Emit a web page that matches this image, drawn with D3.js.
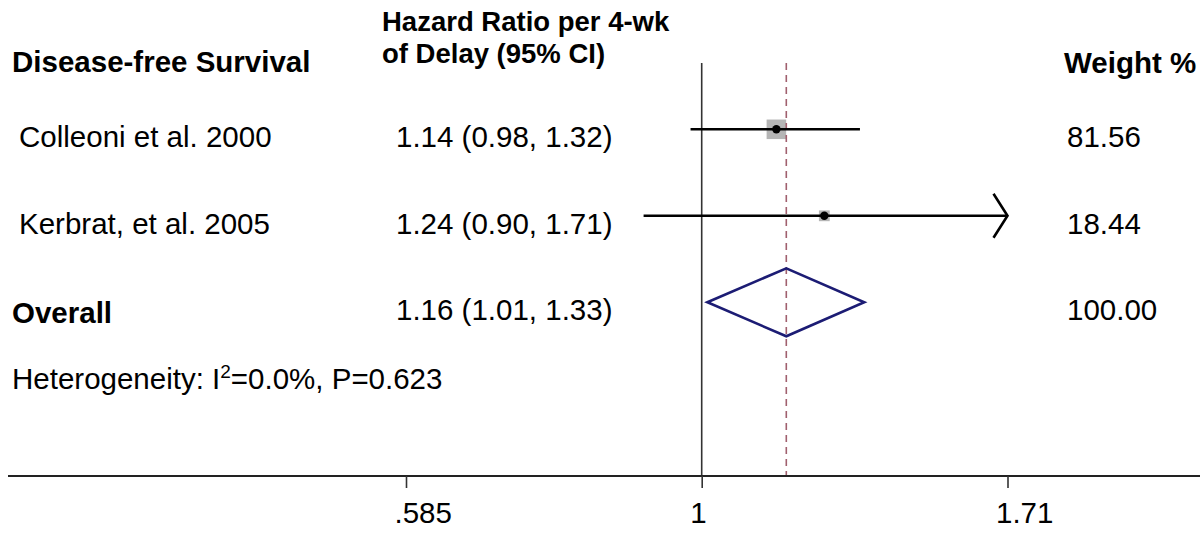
<!DOCTYPE html>
<head>
<meta charset="utf-8">
</head>
<style>
  body {
    margin: 0;
    background: #fff;
    font-family: 'Liberation Sans', Arial, sans-serif;
  }
  svg text {
    font-size: 29.5px;
    fill: #000;
  }
  .bold {
    font-weight: bold;
  }
  .head2 {
    font-size: 27.5px;
  }
  .axis .domain {
    display: none;
  }
</style>
<svg width="1200" height="534"></svg>
<script src="https://d3js.org/d3.v7.min.js"></script>
<script>
// forest plot data
var studies = ["Colleoni et al. 2000", "Kerbrat, et al. 2005", "Overall"];
var hr = [1.14, 1.24, 1.16];
var lower = [0.98, 0.90, 1.01];
var upper = [1.32, 1.71, 1.33];
var weights = [81.56, 18.44, 100.00];
var pooled = 1.16;
var tickValues = [0.585, 1, 1.71];
var tickLabels = [".585", "1", "1.71"];
var heterogeneity = {i2: "0.0%", p: "0.623"};

var svg = d3.select("svg");

var fmt = d3.format(".2f");

// log scale, null line at 1
var x = d3.scaleLog()
    .domain([0.585, 1, 1.71])
    .range([406, 701.7, 1007.5]);

var y = d3.scaleLinear()
    .domain([0, 2])
    .range([129.3, 302.3]);

var boxSide = d3.scalePow()
    .exponent(0.4)
    .domain([0, 100])
    .range([0, 21.2]);

var plotTop = 63,
    axisY = 476,
    xMax = tickValues[tickValues.length - 1];

var rows = studies.map(function(s, i) {
  return {name: s, hr: hr[i], lo: lower[i], hi: upper[i], w: weights[i], i: i, overall: s === "Overall"};
});
var trials = rows.filter(function(d) { return !d.overall; });
var total = rows.filter(function(d) { return d.overall; });

// headers
svg.append("text").attr("class", "bold").attr("x", 12).attr("y", 71.7).text("Disease-free Survival");
svg.append("text").attr("class", "bold head2").attr("x", 382).attr("y", 31).text("Hazard Ratio per 4-wk");
svg.append("text").attr("class", "bold head2").attr("x", 382).attr("y", 63).text("of Delay (95% CI)");
svg.append("text").attr("class", "bold").attr("x", 1064).attr("y", 73).text("Weight %");

// row labels
svg.append("g").selectAll("text")
  .data(rows)
  .enter().append("text")
    .attr("class", function(d) { return d.overall ? "bold" : null; })
    .attr("x", function(d) { return d.overall ? 12 : 19; })
    .attr("y", function(d) { return y(d.i) + (d.overall ? 21 : 18); })
    .text(function(d) { return d.name; });

svg.append("g").selectAll("text")
  .data(rows)
  .enter().append("text")
    .attr("x", 396)
    .attr("y", function(d) { return y(d.i) + 18; })
    .text(function(d) { return fmt(d.hr) + " (" + fmt(d.lo) + ", " + fmt(d.hi) + ")"; });

svg.append("g").selectAll("text")
  .data(rows)
  .enter().append("text")
    .attr("x", 1067)
    .attr("y", function(d) { return y(d.i) + 18; })
    .text(function(d) { return fmt(d.w); });

var het = svg.append("text")
    .attr("x", 12)
    .attr("y", y(3));
het.append("tspan").text("Heterogeneity: I");
het.append("tspan").attr("font-size", "19px").attr("dy", -11).text("2");
het.append("tspan").attr("dy", 11).text("=" + heterogeneity.i2 + ", P=" + heterogeneity.p);

// null line
svg.append("line")
    .attr("x1", x(1)).attr("x2", x(1))
    .attr("y1", plotTop).attr("y2", axisY)
    .attr("stroke", "#333")
    .attr("stroke-width", 1.6);

// weight boxes
svg.append("g").selectAll("rect")
  .data(trials)
  .enter().append("rect")
    .attr("x", function(d) { return x(d.hr) - boxSide(d.w) / 2; })
    .attr("y", function(d) { return y(d.i) - boxSide(d.w) / 2; })
    .attr("width", function(d) { return boxSide(d.w); })
    .attr("height", function(d) { return boxSide(d.w); })
    .attr("fill", "#b5b5b5");

// pooled estimate line
svg.append("line")
    .attr("x1", x(pooled)).attr("x2", x(pooled))
    .attr("y1", plotTop).attr("y2", axisY)
    .attr("stroke", "#a0606e")
    .attr("stroke-width", 1.6)
    .attr("stroke-dasharray", "7,5");

// confidence intervals, clipped with an arrow at the axis limit
svg.append("g").selectAll("line")
  .data(trials)
  .enter().append("line")
    .attr("x1", function(d) { return x(d.lo); })
    .attr("x2", function(d) { return x(Math.min(d.hi, xMax)); })
    .attr("y1", function(d) { return y(d.i); })
    .attr("y2", function(d) { return y(d.i); })
    .attr("stroke", "#000")
    .attr("stroke-width", 2.6);

svg.append("g").selectAll("path")
  .data(trials.filter(function(d) { return d.hi >= xMax; }))
  .enter().append("path")
    .attr("d", function(d) {
      var tx = x(xMax), ty = y(d.i);
      return "M" + (tx - 14) + "," + (ty - 22) + "L" + tx + "," + ty + "L" + (tx - 14) + "," + (ty + 22);
    })
    .attr("fill", "none")
    .attr("stroke", "#000")
    .attr("stroke-width", 2.6);

svg.append("g").selectAll("circle")
  .data(trials)
  .enter().append("circle")
    .attr("cx", function(d) { return x(d.hr); })
    .attr("cy", function(d) { return y(d.i); })
    .attr("r", 4.2)
    .attr("fill", "#000");

// overall diamond
svg.append("g").selectAll("path")
  .data(total)
  .enter().append("path")
    .attr("d", function(d) {
      var cy = y(d.i);
      return "M" + x(d.lo) + "," + cy + "L" + x(d.hr) + "," + (cy - 34) +
             "L" + x(d.hi) + "," + cy + "L" + x(d.hr) + "," + (cy + 34) + "Z";
    })
    .attr("fill", "none")
    .attr("stroke", "#1c1c74")
    .attr("stroke-width", 2.6);

// x axis
svg.append("line")
    .attr("x1", 8).attr("x2", 1200)
    .attr("y1", axisY).attr("y2", axisY)
    .attr("stroke", "#222")
    .attr("stroke-width", 2);

var axis = svg.append("g")
    .attr("class", "axis")
    .attr("transform", "translate(0," + axisY + ")")
    .call(d3.axisBottom(x)
      .tickValues(tickValues)
      .tickFormat(function(d, i) { return tickLabels[i]; })
      .tickSize(12)
      .tickSizeOuter(0));

axis.selectAll(".tick line")
    .attr("stroke", "#333")
    .attr("stroke-width", 1.6);

axis.selectAll(".tick text")
    .attr("font-family", "'Liberation Sans', Arial, sans-serif")
    .attr("font-size", "29px")
    .attr("fill", "#000")
    .attr("text-anchor", "start")
    .attr("x", -12)
    .attr("y", 26);
</script>
